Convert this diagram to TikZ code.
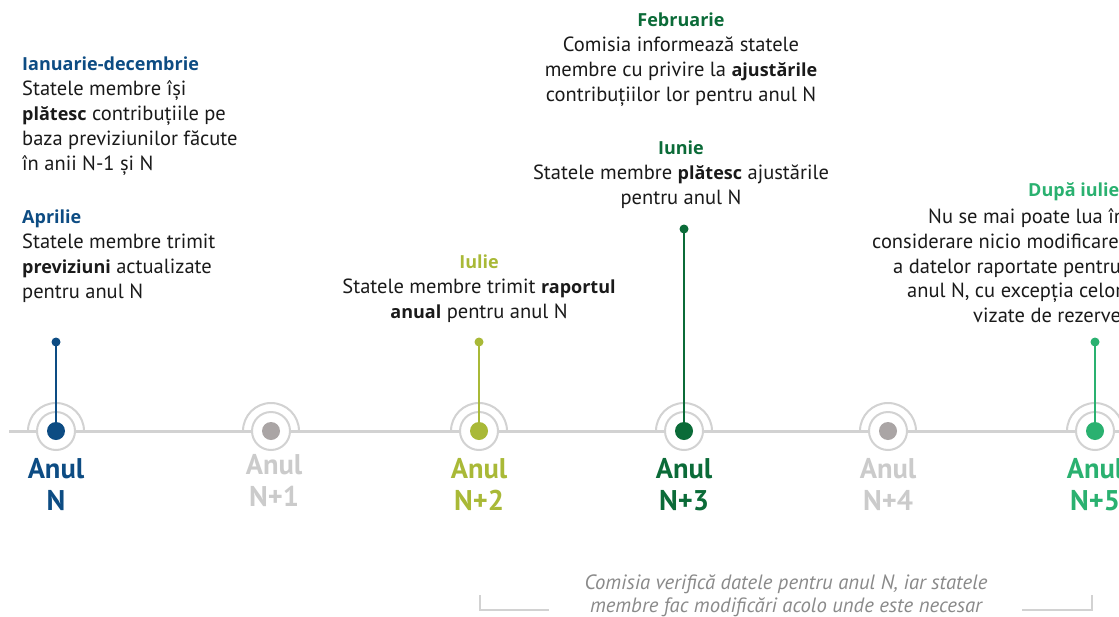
\documentclass[tikz,border=0pt]{standalone}
\usepackage{fontspec}
\setmainfont{PT Sans}
\newfontfamily\headfam{Open Sans}
\newcommand{\bw}[1]{{\headfam\fontsize{18}{24.8}\selectfont\bfseries #1}}
\newcommand{\hd}[2]{\textcolor{#1}{\headfam\fontsize{18}{24.8}\selectfont\bfseries #2}}
\definecolor{cN}{HTML}{0D4C83}
\definecolor{cO}{HTML}{A9B937}
\definecolor{cD}{HTML}{0B6B38}
\definecolor{cL}{HTML}{2AB170}
\definecolor{cG}{HTML}{AAA5A5}
\definecolor{cGT}{HTML}{CBCBCB}
\definecolor{ringc}{HTML}{D2D2D2}
\definecolor{txt}{HTML}{1A1A1A}
\definecolor{notec}{HTML}{8A8A8A}
\begin{document}
\begin{tikzpicture}[x=1pt,y=-1pt,
  body/.style={font=\fontsize{20.5}{24.8}\selectfont, text=txt, inner sep=0pt},
  lab/.style={font=\fontsize{28.5}{32}\selectfont\bfseries, align=center, inner sep=0pt, anchor=north},
  ringnode/.style={circle, draw=ringc, line width=2pt, fill=white, minimum size=38pt, inner sep=0pt},
  outer/.style={draw=ringc, line width=2pt},
  bigdot/.style={circle, minimum size=18pt, inner sep=0pt},
  smalldot/.style={circle, minimum size=9pt, inner sep=0pt},
  stem/.style={line width=2pt},
  tline/.style={draw=ringc, line width=3pt},
  bracket/.style={draw=ringc, line width=1.5pt},
  note/.style={font=\fontsize{20.7}{23}\selectfont\itshape, text=notec, inner sep=0pt, align=center}
]
\clip (0,0) rectangle (1119,616);
\fill[white] (0,0) rectangle (1119,616);

% timeline
\coordinate (tl) at (9,431);
\coordinate (tr) at (1125,431);
\draw[tline] (tl) -- (tr);

% outer arcs
\foreach \x in {56,271,479,684,888,1095} {
  \begin{scope}
    \clip (\x-32,431) rectangle (\x+32,398);
    \draw[outer] (\x,431) circle (28pt);
  \end{scope}
}

% rings
\node[ringnode] (y0) at (56,431) {};
\node[ringnode] (y1) at (271,431) {};
\node[ringnode] (y2) at (479,431) {};
\node[ringnode] (y3) at (684,431) {};
\node[ringnode] (y4) at (888,431) {};
\node[ringnode] (y5) at (1095,431) {};

% stems
\node[smalldot, fill=cN] (s0) at (56,342) {};
\node[smalldot, fill=cO] (s2) at (479,342) {};
\node[smalldot, fill=cD] (s3) at (684,229) {};
\node[smalldot, fill=cL] (s5) at (1095,342) {};
\draw[stem, cN] (s0.center) -- (y0.center);
\draw[stem, cO] (s2.center) -- (y2.center);
\draw[stem, cD] (s3.center) -- (y3.center);
\draw[stem, cL] (s5.center) -- (y5.center);

% dots
\node[bigdot, fill=cN] (d0) at (y0.center) {};
\node[bigdot, fill=cG] (d1) at (y1.center) {};
\node[bigdot, fill=cO] (d2) at (y2.center) {};
\node[bigdot, fill=cD] (d3) at (y3.center) {};
\node[bigdot, fill=cG] (d4) at (y4.center) {};
\node[bigdot, fill=cL] (d5) at (y5.center) {};

% year labels
\node[lab, text=cN] (a0) at (56,458) {Anul\\N};
\node[lab, text=cGT] (a1) at (274,454) {Anul\\N+1};
\node[lab, text=cO] (a2) at (479,458) {Anul\\N+2};
\node[lab, text=cD] (a3) at (684,458) {Anul\\N+3};
\node[lab, text=cGT] (a4) at (888,458) {Anul\\N+4};
\node[lab, text=cL] (a5) at (1095,458) {Anul\\N+5};

% text blocks
\node[body, anchor=north west, align=left] (jan) at (22,57)
  {\hd{cN}{Ianuarie-decembrie}\\Statele membre își\\\bw{plătesc} contribuțiile pe\\baza previziunilor făcute\\în anii N-1 și N};
\node[body, anchor=north west, align=left] (apr) at (22,210)
  {\hd{cN}{Aprilie}\\Statele membre trimit\\\bw{previziuni} actualizate\\pentru anul N};
\node[body, anchor=north, align=center] (iul) at (479,255)
  {\hd{cO}{Iulie}\\Statele membre trimit \bw{raportul}\\\bw{anual} pentru anul N};
\node[body, anchor=north, align=center] (iun) at (681,141)
  {\hd{cD}{Iunie}\\Statele membre \bw{plătesc} ajustările\\pentru anul N};
\node[body, anchor=north, align=center] (feb) at (681,13)
  {\hd{cD}{Februarie}\\Comisia informează statele\\membre cu privire la \bw{ajustările}\\contribuțiilor lor pentru anul N};

% after July block (cut at right edge)
\node[body, anchor=base west] (dh) at (1028,196) {\hd{cL}{După iulie}};
\node[body, anchor=base west] (d1l) at (928,223) {Nu se mai poate lua în};
\node[body, anchor=base west] (d2l) at (872,248) {considerare nicio modificare};
\node[body, anchor=base west] (d3l) at (893,273) {a datelor raportate pentru};
\node[body, anchor=base west] (d4l) at (907,297) {anul N, cu excepția celor};
\node[body, anchor=base west] (d5l) at (973,322) {vizate de rezerve};

% bottom note
\coordinate (bl1) at (480,595);
\coordinate (bl2) at (549,610);
\coordinate (br1) at (1022,610);
\coordinate (br2) at (1092,595);
\draw[bracket] (bl1) |- (bl2);
\draw[bracket] (br1) -| (br2);
\node[note, anchor=north] (nt) at (786,574.5) {Comisia verifică datele pentru anul N, iar statele\\membre fac modificări acolo unde este necesar};
\end{tikzpicture}
\end{document}
